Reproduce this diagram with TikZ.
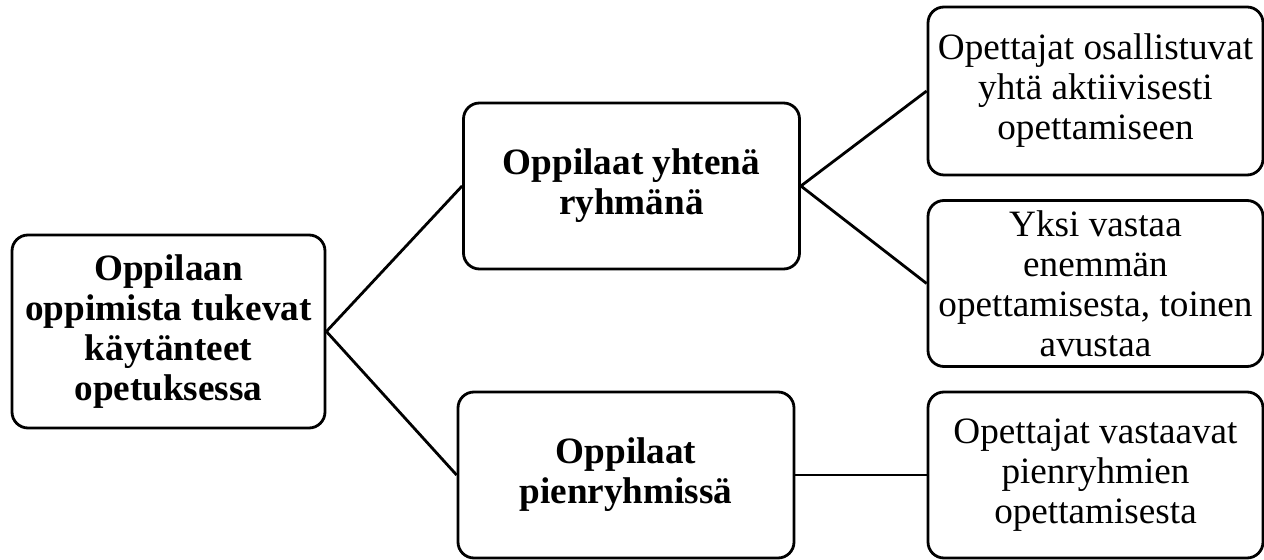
\documentclass[tikz,border=0pt]{standalone}
\usepackage{fontspec}
\setmainfont{Liberation Serif}
\usetikzlibrary{shapes}

\begin{document}
\begin{tikzpicture}[x=0.5pt,y=-0.5pt]
        \tikzstyle{box}=[rectangle,draw,line width=1.4pt,rounded corners=8pt,align=center,inner sep=0pt,
            font=\fontsize{18.6pt}{20pt}\selectfont]
        \tikzstyle{main}=[box,minimum width=156.5pt,minimum height=96.5pt,font=\fontsize{18.6pt}{20pt}\selectfont\bfseries]
        \tikzstyle{mid}=[box,minimum width=168pt,minimum height=83pt,font=\fontsize{18.6pt}{20pt}\selectfont\bfseries]
        \tikzstyle{leaf}=[box,minimum width=167.5pt,minimum height=83pt]
        \tikzstyle{link}=[line width=1.4pt]
        \useasboundingbox (0,0) rectangle (1264,560);
        \node[main] (root) at (168.5,331.5) {Oppilaan\\oppimista tukevat\\käytänteet\\opetuksessa};
        \node[mid] (whole) at (631.5,186) {Oppilaat yhtenä\\ryhmänä};
        \node[mid] (groups) at (626,475) {Oppilaat\\pienryhmissä};
        \node[leaf,minimum height=84pt] (equal) at (1095.5,91) {Opettajat osallistuvat\\yhtä aktiivisesti\\opettamiseen};
        \node[leaf] (assist) at (1095.5,283.5) {Yksi vastaa\\enemmän\\opettamisesta, toinen\\avustaa};
        \node[leaf] (small) at (1095.5,475) {Opettajat vastaavat\\pienryhmien\\opettamisesta};
        \draw[link] (root.east) -- (whole.west);
        \draw[link] (root.east) -- (groups.west);
        \draw[link] (whole.east) -- (equal.west);
        \draw[link] (whole.east) -- (assist.west);
        \draw[link] (groups.east) -- (small.west);
    \end{tikzpicture}
\end{document}
